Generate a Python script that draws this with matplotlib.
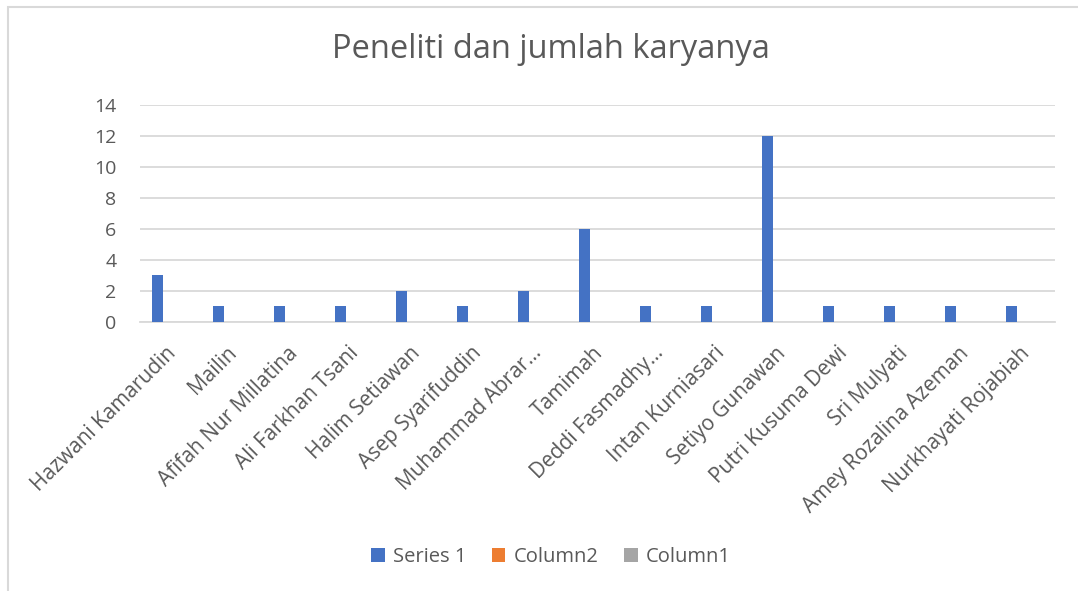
import numpy as np
import matplotlib.pyplot as plt
import matplotlib.transforms as mtrans
from matplotlib.patches import Rectangle

# Données du graphique
peneliti = ['Hazwani Kamarudin', 'Mailin', 'Afifah Nur Millatina', 'Ali Farkhan Tsani',
            'Halim Setiawan', 'Asep Syarifuddin', 'Muhammad Abrar…', 'Tamimah',
            'Deddi Fasmadhy…', 'Intan Kurniasari', 'Setiyo Gunawan', 'Putri Kusuma Dewi',
            'Sri Mulyati', 'Amey Rozalina Azeman', 'Nurkhayati Rojabiah']
series1 = [3, 1, 1, 1, 2, 1, 2, 6, 1, 1, 12, 1, 1, 1, 1]
column2 = [np.nan] * len(peneliti)  # colonne vide
column1 = [np.nan] * len(peneliti)  # colonne vide
yticks = [0, 2, 4, 6, 8, 10, 12, 14]

plt.rcParams['font.family'] = ['Open Sans', 'DejaVu Sans']
txt = '#595959'

fig = plt.figure(figsize=(10.78, 5.91), dpi=100)
fig.patches.append(Rectangle((8 / 1078, -0.1), 1.2, 1 - 7 / 591 + 0.1,
                             transform=fig.transFigure, fill=False,
                             edgecolor='#D9D9D9', linewidth=1.5))

ax = fig.add_axes([140 / 1078, 1 - 321.7 / 591, 915 / 1078, 216.7 / 591])
x = np.arange(len(peneliti))
w = 0.18
ax.bar(x - 0.215, series1, w, color='#4472C4', label='Series 1', zorder=3)
ax.bar(x, column2, w, color='#ED7D31', label='Column2', zorder=3)
ax.bar(x + 0.215, column1, w, color='#A5A5A5', label='Column1', zorder=3)

ax.set_xlim(-0.5, len(peneliti) - 0.5)
ax.set_ylim(0, 14)
ax.set_yticks(yticks)
ax.yaxis.grid(True, color='#D9D9D9', linewidth=1.3)
ax.set_axisbelow(True)
for s in ['top', 'right', 'left']:
    ax.spines[s].set_visible(False)
ax.spines['bottom'].set_color('#D9D9D9')
ax.spines['bottom'].set_linewidth(1.3)
ax.tick_params(axis='y', length=0, labelsize=14, colors=txt, pad=17)
ax.tick_params(axis='x', length=0, pad=10)
ax.set_xticks(x)
ax.set_xticklabels(peneliti, rotation=45, ha='right', va='top',
                   rotation_mode='anchor', fontsize=15, color=txt)
decal = mtrans.ScaledTranslation(-0.05, -0.07, fig.dpi_scale_trans)
for lab in ax.get_xticklabels():
    lab.set_transform(lab.get_transform() + decal)

fig.suptitle('Peneliti dan jumlah karyanya', y=1 - 50 / 591, va='center',
             fontsize=23.5, color=txt, x=551 / 1078)
fig.legend(loc='center', bbox_to_anchor=(551 / 1078, 1 - 557 / 591), ncol=3,
           frameon=False, fontsize=14.5, handlelength=0.65, handleheight=0.65,
           handletextpad=0.4, columnspacing=1.3, labelcolor=txt)

plt.savefig('out.png', dpi=100)
